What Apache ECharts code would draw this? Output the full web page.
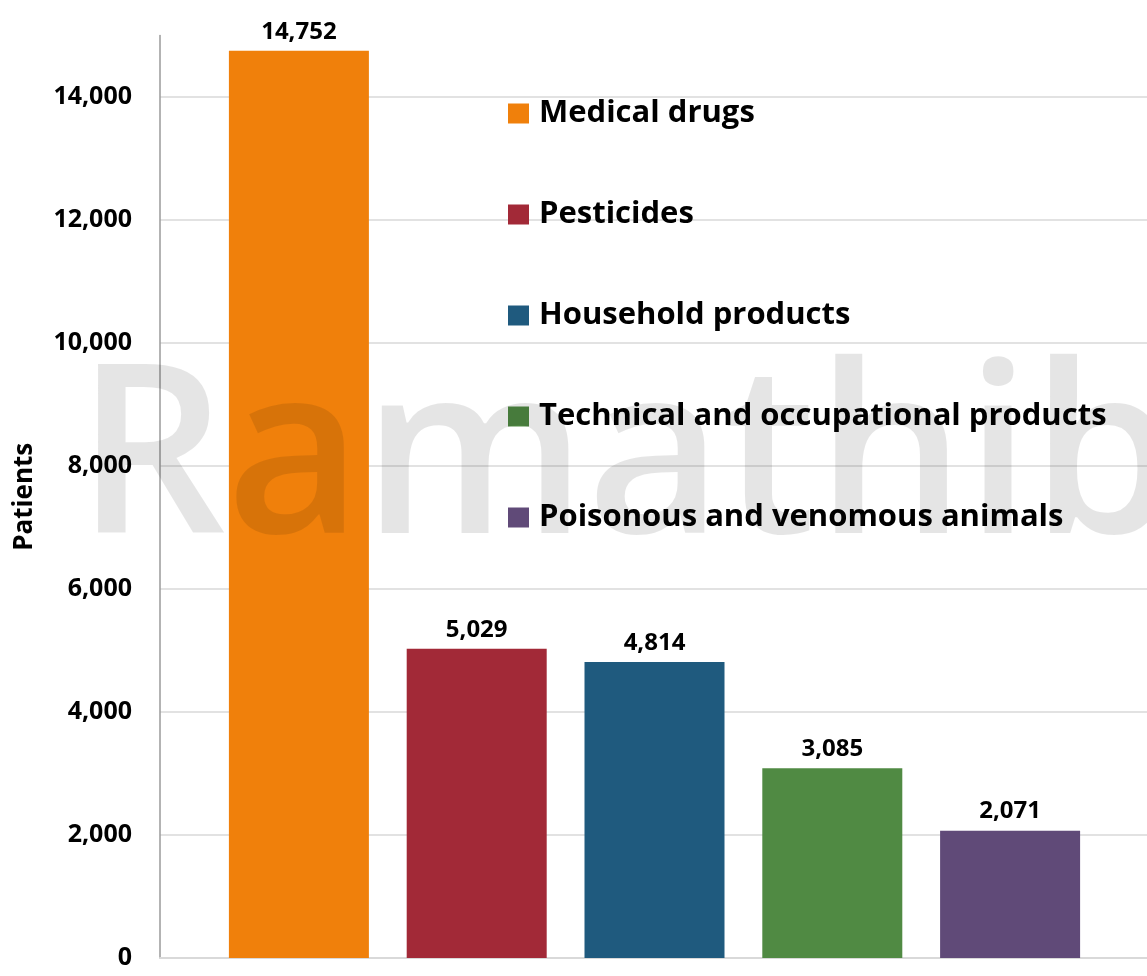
<!DOCTYPE html>
<html>
<head>
<meta charset="utf-8">
<script src="https://cdn.jsdelivr.net/npm/echarts@6/dist/echarts.min.js"></script>
<style>
html,body{margin:0;padding:0;background:#fff;}
#chart{width:1147px;height:976px;}
</style>
</head>
<body>
<div id="chart"></div>
<script>
const categories = ['Medical drugs', 'Pesticides', 'Household products', 'Technical and occupational products', 'Poisonous and venomous animals'];
const patients = [14752, 5029, 4814, 3085, 2071];
const colors = ['#F0800B', '#A22937', '#1F5A7E', '#508A43', '#604A78'];
const yTickMax = 14000;
const yTickInterval = 2000;
const yAxisTitle = 'Patients';
const watermarkText = 'Ramathibodi';

const chart = echarts.init(document.getElementById('chart'));
const fmt = v => Number(v).toLocaleString('en-US');
const FONT = '"Open Sans"';

const series = categories.map((name, i) => ({
  name: name,
  type: 'bar',
  xAxisIndex: 1,
  yAxisIndex: 1,
  barWidth: 140,
  barGap: '-100%',
  itemStyle: { color: colors[i] },
  label: {
    show: true,
    position: 'top',
    distance: 7,
    fontFamily: FONT,
    fontWeight: 'bold',
    fontSize: 24,
    color: '#000',
    formatter: p => fmt(p.value)
  },
  data: categories.map((c, j) => (j === i ? patients[j] : '-'))
}));

chart.setOption({
  animation: false,
  backgroundColor: '#fff',
  grid: [
    { left: 160, right: 0, top: 97, bottom: 18, outerBoundsMode: 'none', containLabel: false },
    { left: 210, width: 889, top: 35.5, bottom: 18, outerBoundsMode: 'none', containLabel: false }
  ],
  xAxis: [
    { gridIndex: 0, type: 'category', data: categories,
      axisLine: { show: true, lineStyle: { color: '#d9d9d9', width: 2 } },
      axisTick: { show: false }, axisLabel: { show: false } },
    { gridIndex: 1, type: 'category', data: categories,
      axisLine: { show: false }, axisTick: { show: false }, axisLabel: { show: false } }
  ],
  yAxis: [
    { gridIndex: 0, type: 'value', min: 0, max: yTickMax, interval: yTickInterval,
      axisLine: { show: false }, axisTick: { show: false },
      axisLabel: { margin: 28, fontFamily: FONT, fontWeight: 'bold', fontSize: 25, color: '#000',
        formatter: v => fmt(v) },
      splitLine: { show: true, lineStyle: { color: '#d9d9d9', width: 1.5 } } },
    { gridIndex: 1, type: 'value', min: 0, max: 15000, offset: 50,
      name: yAxisTitle, nameLocation: 'middle', nameRotate: 90, nameGap: 122,
      nameTextStyle: { fontFamily: FONT, fontWeight: 'bold', fontSize: 26, color: '#000' },
      axisLine: { show: true, lineStyle: { color: '#9a9a9a', width: 1.5 } },
      axisTick: { show: false }, axisLabel: { show: false }, splitLine: { show: false } }
  ],
  legend: {
    orient: 'vertical',
    left: 508,
    top: 98,
    padding: 0,
    itemWidth: 21,
    itemHeight: 20,
    itemGap: 70,
    icon: 'rect',
    selectedMode: false,
    textStyle: { fontFamily: FONT, fontWeight: 'bold', fontSize: 31, color: '#000', padding: [0, 0, 0, 5] },
    data: categories
  },
  graphic: [{
    type: 'text',
    z: 100,
    silent: true,
    style: {
      text: watermarkText,
      x: 76,
      y: 466,
      font: '600 235px "Open Sans"',
      fill: 'rgba(0,0,0,0.1)',
      textVerticalAlign: 'middle'
    }
  }],
  series: series
});
</script>
</body>
</html>
